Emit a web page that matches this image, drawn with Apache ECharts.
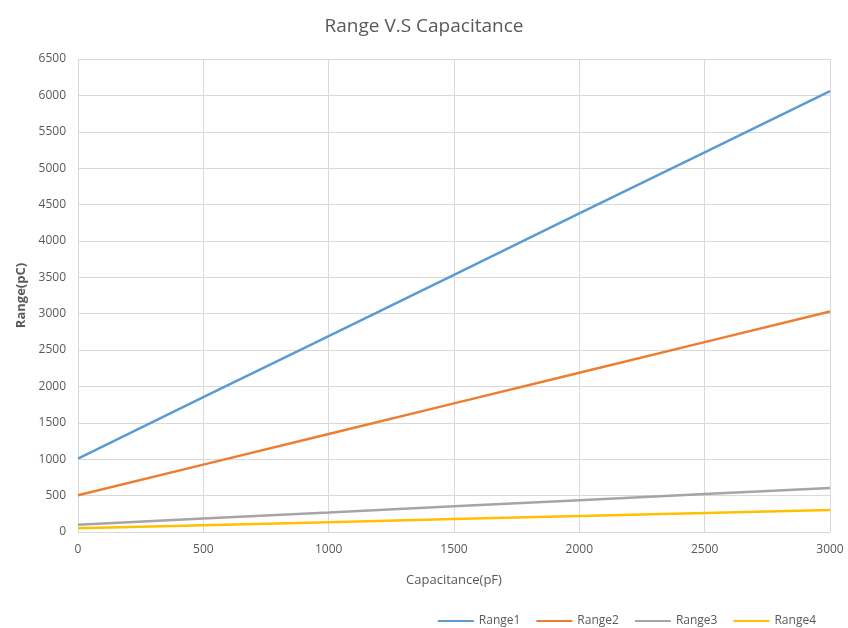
<!DOCTYPE html>
<html>
<head>
<meta charset="utf-8">
<script src="https://cdn.jsdelivr.net/npm/echarts@6/dist/echarts.min.js"></script>
<style>
  html, body { margin: 0; padding: 0; background: #fff; }
  #chart { width: 848px; height: 628px; }
</style>
</head>
<body>
<div id="chart"></div>
<script>
// Capacitance values (pF) sampled along the x axis
const capacitance = [0, 500, 1000, 1500, 2000, 2500, 3000];

// Charge range (pC) for each range setting
const range1 = [1010, 1852, 2693, 3535, 4377, 5218, 6060];
const range2 = [505, 926, 1347, 1768, 2189, 2609, 3030];
const range3 = [101, 185, 269, 354, 438, 522, 606];
const range4 = [50, 93, 135, 177, 219, 261, 303];

const seriesNames = ['Range1', 'Range2', 'Range3', 'Range4'];
const seriesValues = [range1, range2, range3, range4];
const colors = ['#5B9BD5', '#ED7D31', '#A5A5A5', '#FFC000'];

const font = 'Open Sans, Liberation Sans, sans-serif';
const textGray = '#595959';
const gridGray = '#d9d9d9';
const plain = v => String(v);

const chart = echarts.init(document.getElementById('chart'), null, { renderer: 'canvas' });

chart.setOption({
  animation: false,
  color: colors,
  title: {
    text: 'Range V.S Capacitance',
    left: 'center',
    top: 12,
    textStyle: { fontFamily: font, fontSize: 19, fontWeight: 'normal', color: textGray }
  },
  legend: {
    data: seriesNames,
    right: 32,
    top: 615,
    padding: 0,
    itemWidth: 36,
    itemHeight: 2,
    itemGap: 16,
    icon: 'rect',
    textStyle: { fontFamily: font, fontSize: 12, color: textGray }
  },
  grid: { left: 78, right: 18, top: 59, bottom: 96 },
  xAxis: {
    type: 'value',
    min: 0,
    max: 3000,
    interval: 500,
    name: 'Capacitance(pF)',
    nameLocation: 'middle',
    nameGap: 42,
    nameTextStyle: { fontFamily: font, fontSize: 13, color: textGray },
    axisLine: { show: true, lineStyle: { color: gridGray } },
    axisTick: { show: false },
    axisLabel: { fontFamily: font, fontSize: 12, color: textGray, margin: 12, formatter: plain },
    splitLine: { show: true, lineStyle: { color: gridGray } }
  },
  yAxis: {
    type: 'value',
    min: 0,
    max: 6500,
    interval: 500,
    name: 'Range(pC)',
    nameLocation: 'middle',
    nameGap: 47,
    nameTextStyle: { fontFamily: font, fontSize: 13, fontWeight: 'bold', color: textGray },
    axisLine: { show: true, lineStyle: { color: gridGray } },
    axisTick: { show: false },
    axisLabel: { fontFamily: font, fontSize: 12, color: textGray, margin: 12, formatter: plain },
    splitLine: { show: true, lineStyle: { color: gridGray } }
  },
  series: seriesNames.map((name, i) => ({
    name: name,
    type: 'line',
    data: capacitance.map((c, j) => [c, seriesValues[i][j]]),
    showSymbol: false,
    symbol: 'none',
    lineStyle: { width: 2.5, color: colors[i] },
    itemStyle: { color: colors[i] }
  }))
});
</script>
</body>
</html>
